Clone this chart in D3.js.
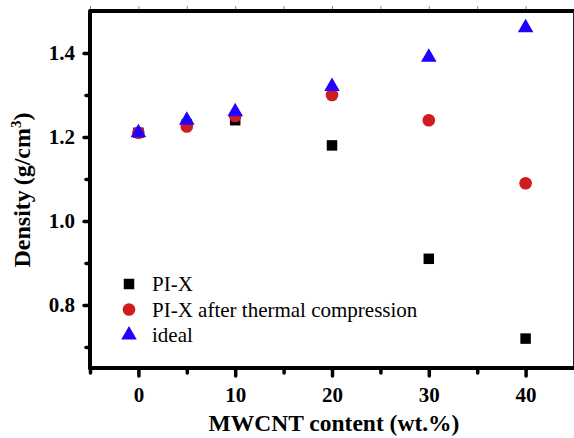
<!DOCTYPE html>
<html>
<head>
<meta charset="utf-8">
<script src="https://cdn.jsdelivr.net/npm/d3@7"></script>
<style>
  body { margin: 0; background: #fff; }
  svg { display: block; }
</style>
</head>
<body>
<svg id="chart" width="574" height="438"></svg>
<script>
// MWCNT content (wt.%)
const content = [0, 5, 10, 20, 30, 40];
const pix = [1.21, 1.23, 1.24, 1.18, 0.91, 0.72];
const pixCompressed = [1.21, 1.225, 1.25, 1.30, 1.24, 1.09];
const ideal = [1.21, 1.24, 1.26, 1.32, 1.39, 1.46];
const xMajorTicks = [0, 10, 20, 30, 40];
const xMinorTicks = [-5, 5, 15, 25, 35];
const yMajorTicks = [0.8, 1.0, 1.2, 1.4];
const yMinorTicks = [0.7, 0.9, 1.1, 1.3];
const seriesNames = ["PI-X", "PI-X after thermal compression", "ideal"];

const svg = d3.select("#chart");
const plotLeft = 90, plotRight = 574, plotTop = 11, plotBottom = 368;

const x = d3.scaleLinear().domain([-5, 45]).range([plotLeft, plotRight]);
const y = d3.scaleLinear().domain([0.65, 1.5]).range([plotBottom, plotTop]);

const serif = "'Liberation Serif', 'Times New Roman', serif";

// top ticks (thin)
svg.append("g")
  .attr("transform", `translate(0,${plotTop})`)
  .call(d3.axisTop(x).tickValues(xMajorTicks.concat(xMinorTicks, [45])).tickSize(5).tickFormat(""))
  .call(g => g.select(".domain").remove())
  .call(g => g.selectAll("line").attr("stroke", "#888").attr("stroke-width", 1));

// bottom axis
svg.append("g")
  .attr("transform", `translate(0,${plotBottom})`)
  .call(d3.axisBottom(x).tickValues(xMinorTicks).tickSize(5).tickFormat(""))
  .call(g => g.select(".domain").remove())
  .call(g => g.selectAll("line").attr("stroke", "#000").attr("stroke-width", 3.5).attr("stroke-linecap", "round"));

svg.append("g")
  .attr("transform", `translate(0,${plotBottom})`)
  .call(d3.axisBottom(x).tickValues(xMajorTicks).tickSize(8).tickPadding(11).tickFormat(d3.format("d")))
  .call(g => g.select(".domain").remove())
  .call(g => g.selectAll("line").attr("stroke", "#000").attr("stroke-width", 3.5).attr("stroke-linecap", "round"))
  .call(g => g.selectAll("text")
    .attr("font-family", serif).attr("font-size", 21).attr("font-weight", "bold").attr("fill", "#000"));

// left axis
svg.append("g")
  .attr("transform", `translate(${plotLeft},0)`)
  .call(d3.axisLeft(y).tickValues(yMinorTicks).tickSize(4).tickFormat(""))
  .call(g => g.select(".domain").remove())
  .call(g => g.selectAll("line").attr("stroke", "#000").attr("stroke-width", 3.5).attr("stroke-linecap", "round"));

svg.append("g")
  .attr("transform", `translate(${plotLeft},0)`)
  .call(d3.axisLeft(y).tickValues(yMajorTicks).tickSize(6).tickPadding(9).tickFormat(d3.format(".1f")))
  .call(g => g.select(".domain").remove())
  .call(g => g.selectAll("line").attr("stroke", "#000").attr("stroke-width", 3.5).attr("stroke-linecap", "round"))
  .call(g => g.selectAll("text")
    .attr("font-family", serif).attr("font-size", 21).attr("font-weight", "bold").attr("fill", "#000"));

// frame
svg.append("line").attr("x1", plotLeft).attr("x2", plotRight).attr("y1", plotTop).attr("y2", plotTop)
  .attr("stroke", "#000").attr("stroke-width", 4);
svg.append("line").attr("x1", 573.5).attr("x2", 573.5).attr("y1", plotTop).attr("y2", plotBottom)
  .attr("stroke", "#222").attr("stroke-width", 1);
svg.append("line").attr("x1", plotLeft).attr("x2", plotRight).attr("y1", plotBottom).attr("y2", plotBottom)
  .attr("stroke", "#000").attr("stroke-width", 4).attr("stroke-linecap", "round");
svg.append("line").attr("x1", plotLeft).attr("x2", plotLeft).attr("y1", plotTop).attr("y2", plotBottom)
  .attr("stroke", "#000").attr("stroke-width", 4).attr("stroke-linecap", "round");

// markers
const square = d3.symbol().type(d3.symbolSquare).size(110);
const circle = d3.symbol().type(d3.symbolCircle).size(125);
const triangle = d3.symbol().type(d3.symbolTriangle).size(105);

const series = [
  { name: seriesNames[0], values: pix, symbol: square, color: "#000000" },
  { name: seriesNames[1], values: pixCompressed, symbol: circle, color: "#d01c1f" },
  { name: seriesNames[2], values: ideal, symbol: triangle, color: "#2200ff" }
];

series.forEach(s => {
  svg.append("g").selectAll("path")
    .data(content.map((c, i) => [c, s.values[i]]))
    .join("path")
    .attr("d", s.symbol)
    .attr("transform", d => `translate(${x(d[0])},${y(d[1])})`)
    .attr("fill", s.color);
});

// legend
const legend = svg.append("g").attr("transform", "translate(129,284)");
series.forEach((s, i) => {
  const row = legend.append("g").attr("transform", `translate(0,${i * 25.5})`);
  row.append("path")
    .attr("d", s.symbol)
    .attr("fill", s.color);
  row.append("text")
    .attr("x", 23)
    .attr("dy", "0.35em")
    .attr("font-family", serif)
    .attr("font-size", 21)
    .attr("fill", "#000")
    .text(s.name);
});

// axis titles
svg.append("text")
  .attr("x", 334)
  .attr("y", 431)
  .attr("text-anchor", "middle")
  .attr("font-family", serif)
  .attr("font-size", 23.5)
  .attr("font-weight", "bold")
  .text("MWCNT content (wt.%)");

const yTitle = svg.append("text")
  .attr("transform", "translate(30,190) rotate(-90)")
  .attr("text-anchor", "middle")
  .attr("font-family", serif)
  .attr("font-size", 24)
  .attr("font-weight", "bold");
yTitle.append("tspan").text("Density\u2009(g/cm");
yTitle.append("tspan").attr("font-size", 15).attr("dy", -9).text("3");
yTitle.append("tspan").attr("dy", 9).text(")");
</script>
</body>
</html>
